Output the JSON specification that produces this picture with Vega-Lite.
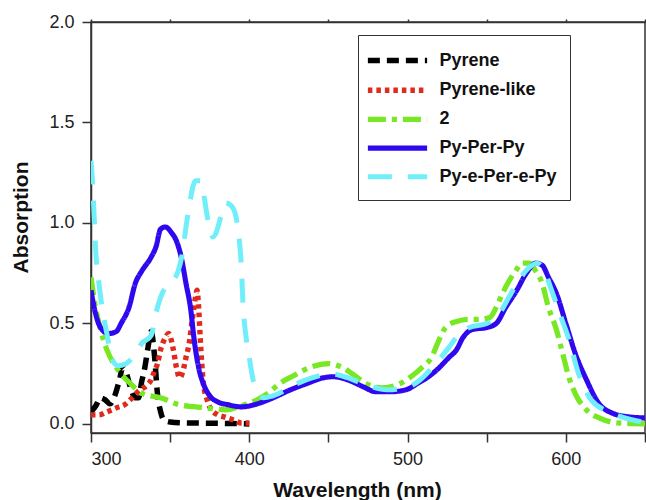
{
  "$schema": "https://vega.github.io/schema/vega-lite/v6.json",
  "width": 554,
  "height": 411,
  "autosize": "none",
  "padding": {"left": 91, "top": 22, "right": 1, "bottom": 67},
  "config": {
    "font": "Liberation Sans",
    "view": {"stroke": "#333", "strokeWidth": 1.5},
    "axis": {"grid": false, "domainColor": "#333", "domainWidth": 1.5, "tickColor": "#333", "tickWidth": 1.5, "tickSize": 9, "labelFontSize": 18, "labelColor": "#222", "labelPadding": 8, "titleFontSize": 21, "titleFontWeight": "bold", "titleColor": "#111"}
  },
  "data": {"values": [
    {"s":"Pyrene","x":300,"y":0.06},{"s":"Pyrene","x":303,"y":0.09},{"s":"Pyrene","x":306,"y":0.13},{"s":"Pyrene","x":309,"y":0.12},{"s":"Pyrene","x":312,"y":0.10},{"s":"Pyrene","x":315,"y":0.14},{"s":"Pyrene","x":318,"y":0.22},{"s":"Pyrene","x":320,"y":0.28},{"s":"Pyrene","x":322,"y":0.26},{"s":"Pyrene","x":325,"y":0.18},{"s":"Pyrene","x":328,"y":0.13},{"s":"Pyrene","x":330,"y":0.13},{"s":"Pyrene","x":332,"y":0.21},{"s":"Pyrene","x":334,"y":0.28},{"s":"Pyrene","x":336,"y":0.38},{"s":"Pyrene","x":338,"y":0.46},{"s":"Pyrene","x":340,"y":0.35},{"s":"Pyrene","x":342,"y":0.15},{"s":"Pyrene","x":344,"y":0.06},{"s":"Pyrene","x":346,"y":0.02},{"s":"Pyrene","x":350,"y":0.01},{"s":"Pyrene","x":360,"y":0.005},{"s":"Pyrene","x":370,"y":0.004},{"s":"Pyrene","x":380,"y":0.003},{"s":"Pyrene","x":390,"y":0.002},{"s":"Pyrene","x":400,"y":0.0},
    {"s":"Pyrene-like","x":300,"y":0.045},{"s":"Pyrene-like","x":305,"y":0.045},{"s":"Pyrene-like","x":310,"y":0.06},{"s":"Pyrene-like","x":316,"y":0.08},{"s":"Pyrene-like","x":322,"y":0.10},{"s":"Pyrene-like","x":326,"y":0.13},{"s":"Pyrene-like","x":331,"y":0.17},{"s":"Pyrene-like","x":335,"y":0.19},{"s":"Pyrene-like","x":338,"y":0.22},{"s":"Pyrene-like","x":340,"y":0.26},{"s":"Pyrene-like","x":342,"y":0.30},{"s":"Pyrene-like","x":344,"y":0.37},{"s":"Pyrene-like","x":347,"y":0.43},{"s":"Pyrene-like","x":349,"y":0.45},{"s":"Pyrene-like","x":352,"y":0.37},{"s":"Pyrene-like","x":354,"y":0.28},{"s":"Pyrene-like","x":356,"y":0.23},{"s":"Pyrene-like","x":358,"y":0.26},{"s":"Pyrene-like","x":360,"y":0.33},{"s":"Pyrene-like","x":362,"y":0.40},{"s":"Pyrene-like","x":364,"y":0.52},{"s":"Pyrene-like","x":366,"y":0.63},{"s":"Pyrene-like","x":367,"y":0.665},{"s":"Pyrene-like","x":368,"y":0.58},{"s":"Pyrene-like","x":369,"y":0.43},{"s":"Pyrene-like","x":370,"y":0.30},{"s":"Pyrene-like","x":371,"y":0.20},{"s":"Pyrene-like","x":373,"y":0.13},{"s":"Pyrene-like","x":375,"y":0.085},{"s":"Pyrene-like","x":380,"y":0.045},{"s":"Pyrene-like","x":384,"y":0.035},{"s":"Pyrene-like","x":390,"y":0.02},{"s":"Pyrene-like","x":395,"y":0.005},{"s":"Pyrene-like","x":400,"y":0.005},
    {"s":"2","x":300,"y":0.73},{"s":"2","x":302,"y":0.62},{"s":"2","x":306,"y":0.47},{"s":"2","x":310,"y":0.37},{"s":"2","x":317,"y":0.27},{"s":"2","x":325,"y":0.20},{"s":"2","x":333,"y":0.15},{"s":"2","x":344,"y":0.13},{"s":"2","x":356,"y":0.095},{"s":"2","x":373,"y":0.08},{"s":"2","x":385,"y":0.07},{"s":"2","x":395,"y":0.09},{"s":"2","x":405,"y":0.12},{"s":"2","x":413,"y":0.16},{"s":"2","x":419,"y":0.20},{"s":"2","x":428,"y":0.24},{"s":"2","x":438,"y":0.28},{"s":"2","x":450,"y":0.30},{"s":"2","x":459,"y":0.28},{"s":"2","x":465,"y":0.25},{"s":"2","x":474,"y":0.20},{"s":"2","x":484,"y":0.18},{"s":"2","x":495,"y":0.20},{"s":"2","x":503,"y":0.24},{"s":"2","x":509,"y":0.28},{"s":"2","x":515,"y":0.33},{"s":"2","x":520,"y":0.42},{"s":"2","x":524,"y":0.48},{"s":"2","x":531,"y":0.51},{"s":"2","x":539,"y":0.52},{"s":"2","x":545,"y":0.52},{"s":"2","x":552,"y":0.53},{"s":"2","x":556,"y":0.58},{"s":"2","x":560,"y":0.65},{"s":"2","x":564,"y":0.71},{"s":"2","x":569,"y":0.77},{"s":"2","x":572,"y":0.80},{"s":"2","x":577,"y":0.80},{"s":"2","x":581,"y":0.76},{"s":"2","x":585,"y":0.70},{"s":"2","x":589,"y":0.58},{"s":"2","x":594,"y":0.47},{"s":"2","x":598,"y":0.35},{"s":"2","x":602,"y":0.23},{"s":"2","x":606,"y":0.15},{"s":"2","x":613,"y":0.07},{"s":"2","x":621,"y":0.03},{"s":"2","x":633,"y":0.005},{"s":"2","x":650,"y":0.0},
    {"s":"Py-Per-Py","x":300,"y":0.665},{"s":"Py-Per-Py","x":302,"y":0.58},{"s":"Py-Per-Py","x":306,"y":0.48},{"s":"Py-Per-Py","x":311,"y":0.45},{"s":"Py-Per-Py","x":316,"y":0.46},{"s":"Py-Per-Py","x":319,"y":0.50},{"s":"Py-Per-Py","x":324,"y":0.58},{"s":"Py-Per-Py","x":328,"y":0.70},{"s":"Py-Per-Py","x":332,"y":0.76},{"s":"Py-Per-Py","x":338,"y":0.83},{"s":"Py-Per-Py","x":341,"y":0.88},{"s":"Py-Per-Py","x":344,"y":0.97},{"s":"Py-Per-Py","x":347,"y":0.98},{"s":"Py-Per-Py","x":351,"y":0.95},{"s":"Py-Per-Py","x":354,"y":0.91},{"s":"Py-Per-Py","x":357,"y":0.83},{"s":"Py-Per-Py","x":360,"y":0.70},{"s":"Py-Per-Py","x":363,"y":0.57},{"s":"Py-Per-Py","x":365,"y":0.43},{"s":"Py-Per-Py","x":368,"y":0.28},{"s":"Py-Per-Py","x":371,"y":0.20},{"s":"Py-Per-Py","x":375,"y":0.14},{"s":"Py-Per-Py","x":380,"y":0.11},{"s":"Py-Per-Py","x":387,"y":0.095},{"s":"Py-Per-Py","x":395,"y":0.085},{"s":"Py-Per-Py","x":405,"y":0.10},{"s":"Py-Per-Py","x":415,"y":0.13},{"s":"Py-Per-Py","x":426,"y":0.17},{"s":"Py-Per-Py","x":436,"y":0.20},{"s":"Py-Per-Py","x":447,"y":0.23},{"s":"Py-Per-Py","x":453,"y":0.235},{"s":"Py-Per-Py","x":462,"y":0.22},{"s":"Py-Per-Py","x":472,"y":0.185},{"s":"Py-Per-Py","x":480,"y":0.16},{"s":"Py-Per-Py","x":489,"y":0.16},{"s":"Py-Per-Py","x":499,"y":0.17},{"s":"Py-Per-Py","x":506,"y":0.20},{"s":"Py-Per-Py","x":514,"y":0.24},{"s":"Py-Per-Py","x":520,"y":0.28},{"s":"Py-Per-Py","x":526,"y":0.33},{"s":"Py-Per-Py","x":531,"y":0.37},{"s":"Py-Per-Py","x":535,"y":0.43},{"s":"Py-Per-Py","x":541,"y":0.47},{"s":"Py-Per-Py","x":550,"y":0.48},{"s":"Py-Per-Py","x":556,"y":0.50},{"s":"Py-Per-Py","x":562,"y":0.58},{"s":"Py-Per-Py","x":569,"y":0.665},{"s":"Py-Per-Py","x":575,"y":0.75},{"s":"Py-Per-Py","x":581,"y":0.80},{"s":"Py-Per-Py","x":585,"y":0.79},{"s":"Py-Per-Py","x":589,"y":0.73},{"s":"Py-Per-Py","x":594,"y":0.65},{"s":"Py-Per-Py","x":600,"y":0.50},{"s":"Py-Per-Py","x":606,"y":0.35},{"s":"Py-Per-Py","x":613,"y":0.22},{"s":"Py-Per-Py","x":621,"y":0.10},{"s":"Py-Per-Py","x":629,"y":0.055},{"s":"Py-Per-Py","x":640,"y":0.035},{"s":"Py-Per-Py","x":650,"y":0.03},
    {"s":"Py-e-Per-e-Py","x":300,"y":1.31},{"s":"Py-e-Per-e-Py","x":301,"y":1.2},{"s":"Py-e-Per-e-Py","x":302,"y":1.03},{"s":"Py-e-Per-e-Py","x":303,"y":0.86},{"s":"Py-e-Per-e-Py","x":305,"y":0.70},{"s":"Py-e-Per-e-Py","x":307,"y":0.58},{"s":"Py-e-Per-e-Py","x":310,"y":0.45},{"s":"Py-e-Per-e-Py","x":313,"y":0.33},{"s":"Py-e-Per-e-Py","x":317,"y":0.29},{"s":"Py-e-Per-e-Py","x":322,"y":0.30},{"s":"Py-e-Per-e-Py","x":328,"y":0.35},{"s":"Py-e-Per-e-Py","x":332,"y":0.40},{"s":"Py-e-Per-e-Py","x":338,"y":0.44},{"s":"Py-e-Per-e-Py","x":341,"y":0.55},{"s":"Py-e-Per-e-Py","x":345,"y":0.65},{"s":"Py-e-Per-e-Py","x":350,"y":0.70},{"s":"Py-e-Per-e-Py","x":355,"y":0.76},{"s":"Py-e-Per-e-Py","x":358,"y":0.86},{"s":"Py-e-Per-e-Py","x":360,"y":0.98},{"s":"Py-e-Per-e-Py","x":362,"y":1.08},{"s":"Py-e-Per-e-Py","x":366,"y":1.21},{"s":"Py-e-Per-e-Py","x":369,"y":1.21},{"s":"Py-e-Per-e-Py","x":371,"y":1.15},{"s":"Py-e-Per-e-Py","x":374,"y":1.01},{"s":"Py-e-Per-e-Py","x":377,"y":0.93},{"s":"Py-e-Per-e-Py","x":379,"y":0.95},{"s":"Py-e-Per-e-Py","x":382,"y":1.03},{"s":"Py-e-Per-e-Py","x":385,"y":1.10},{"s":"Py-e-Per-e-Py","x":388,"y":1.09},{"s":"Py-e-Per-e-Py","x":391,"y":1.05},{"s":"Py-e-Per-e-Py","x":393,"y":0.96},{"s":"Py-e-Per-e-Py","x":395,"y":0.78},{"s":"Py-e-Per-e-Py","x":396,"y":0.60},{"s":"Py-e-Per-e-Py","x":398,"y":0.43},{"s":"Py-e-Per-e-Py","x":400,"y":0.33},{"s":"Py-e-Per-e-Py","x":401,"y":0.28},{"s":"Py-e-Per-e-Py","x":403,"y":0.20},{"s":"Py-e-Per-e-Py","x":405,"y":0.17},{"s":"Py-e-Per-e-Py","x":409,"y":0.13},{"s":"Py-e-Per-e-Py","x":415,"y":0.14},{"s":"Py-e-Per-e-Py","x":430,"y":0.20},{"s":"Py-e-Per-e-Py","x":440,"y":0.23},{"s":"Py-e-Per-e-Py","x":451,"y":0.25},{"s":"Py-e-Per-e-Py","x":462,"y":0.23},{"s":"Py-e-Per-e-Py","x":472,"y":0.20},{"s":"Py-e-Per-e-Py","x":487,"y":0.17},{"s":"Py-e-Per-e-Py","x":499,"y":0.18},{"s":"Py-e-Per-e-Py","x":508,"y":0.22},{"s":"Py-e-Per-e-Py","x":512,"y":0.25},{"s":"Py-e-Per-e-Py","x":520,"y":0.32},{"s":"Py-e-Per-e-Py","x":526,"y":0.38},{"s":"Py-e-Per-e-Py","x":533,"y":0.45},{"s":"Py-e-Per-e-Py","x":539,"y":0.48},{"s":"Py-e-Per-e-Py","x":550,"y":0.50},{"s":"Py-e-Per-e-Py","x":558,"y":0.55},{"s":"Py-e-Per-e-Py","x":564,"y":0.63},{"s":"Py-e-Per-e-Py","x":570,"y":0.71},{"s":"Py-e-Per-e-Py","x":577,"y":0.78},{"s":"Py-e-Per-e-Py","x":582,"y":0.80},{"s":"Py-e-Per-e-Py","x":587,"y":0.75},{"s":"Py-e-Per-e-Py","x":591,"y":0.665},{"s":"Py-e-Per-e-Py","x":597,"y":0.53},{"s":"Py-e-Per-e-Py","x":602,"y":0.42},{"s":"Py-e-Per-e-Py","x":608,"y":0.25},{"s":"Py-e-Per-e-Py","x":616,"y":0.12},{"s":"Py-e-Per-e-Py","x":629,"y":0.055},{"s":"Py-e-Per-e-Py","x":648,"y":0.01}
  ]},
  "layer": [
    {
      "mark": {"type": "line", "interpolate": "monotone", "clip": true},
      "encoding": {
        "x": {"field": "x", "type": "quantitative", "scale": {"domain": [300, 650], "nice": false, "zero": false},
          "axis": {"title": "Wavelength (nm)", "values": [300,350,400,450,500,550,600,650], "labelExpr": "datum.value % 100 == 0 ? datum.label : ''", "titleX": 266, "titleY": 46}},
        "y": {"field": "y", "type": "quantitative", "scale": {"domain": [-0.045, 2.0], "nice": false, "zero": false},
          "axis": {"title": "Absorption", "values": [0, 0.5, 1, 1.5, 2], "format": ".1f", "titleX": -60, "titleY": 195}},
        "color": {"field": "s", "type": "nominal",
          "scale": {"domain": ["Pyrene","Pyrene-like","2","Py-Per-Py","Py-e-Per-e-Py"], "range": ["#000000","#e02a1c","#77e823","#3008ee","#70eefa"]},
          "legend": {"title": null, "orient": "none", "legendX": 267, "legendY": 13, "padding": 12.5, "strokeColor": "#333", "fillColor": "white", "labelFontSize": 18, "labelFontWeight": "bold", "labelColor": "#111", "symbolType": "M-3,0H3", "symbolSize": 390, "symbolStrokeWidth": 5, "symbolOffset": 14, "labelOffset": 29, "rowPadding": 5.7}},
        "strokeDash": {"field": "s", "type": "nominal",
          "scale": {"domain": ["Pyrene","Pyrene-like","2","Py-Per-Py","Py-e-Per-e-Py"], "range": [[12,7],[4.5,4],[18,6,5,6],[1,0],[24,16]]}},
        "strokeWidth": {"field": "s", "type": "nominal", "legend": null,
          "scale": {"domain": ["Pyrene","Pyrene-like","2","Py-Per-Py","Py-e-Per-e-Py"], "range": [5.5, 5, 5.5, 7, 6]}}
      }
    },
    {
      "mark": {"type": "line", "opacity": 0},
      "encoding": {
        "x": {"field": "x", "type": "quantitative",
          "axis": {"orient": "top", "title": null, "labels": false, "values": [300,350,400,450,500,550,600,650], "tickSize": 3}},
        "y": {"field": "y", "type": "quantitative", "axis": {"title": "Absorption", "values": [0, 0.5, 1, 1.5, 2], "format": ".1f", "titleX": -60, "titleY": 195}},
        "detail": {"field": "s"}
      }
    }
  ],
  "resolve": {"axis": {"x": "independent"}}
}
